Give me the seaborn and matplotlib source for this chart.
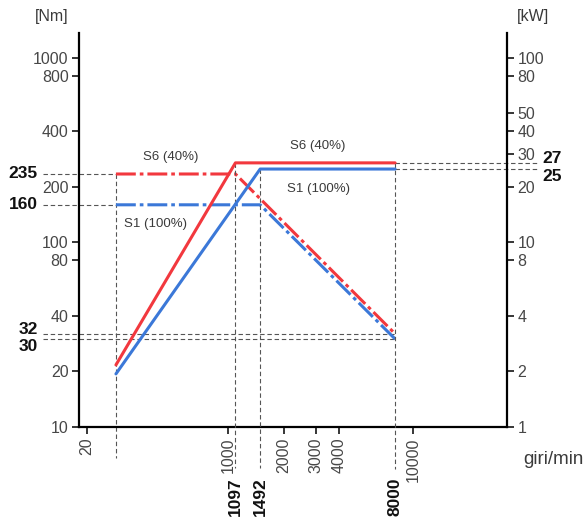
import numpy as np
import pandas as pd
import seaborn as sns
import matplotlib.pyplot as plt

# operating curves (speed in giri/min, torque in Nm, power in kW)
speed_s6 = [248, 1097, 8000]
torque_s6 = [235, 235, 32]
power_s6 = [2.17, 27, 27]

speed_s1 = [248, 1492, 8000]
torque_s1 = [160, 160, 30]
power_s1 = [1.94, 25, 25]

# axis ticks
x_ticks = [173, 1000, 2000, 3000, 4000, 10000]
x_tick_labels = ["20", "1000", "2000", "3000", "4000", "10000"]
y_ticks_nm = [10, 20, 40, 80, 100, 200, 400, 800, 1000]
y_ticks_kw = [1, 2, 4, 8, 10, 20, 30, 40, 50, 80, 100]

RED = "#f2383e"
BLUE = "#3b78d8"
GUIDE = "#555555"

sns.set_style("ticks")
plt.rcParams["font.family"] = ["Liberation Sans", "DejaVu Sans"]

fig = plt.figure(figsize=(5.85, 5.2), dpi=100)
ax = fig.add_axes([79 / 585, 1 - 427 / 520, 428 / 585, 394 / 520])
ax2 = ax.twinx()

xlim = (156.6, 32200)
ylim = (10, 1365)
for a in (ax, ax2):
    a.set_xscale("log")
    a.set_yscale("log")
    a.set_xlim(*xlim)
ax.set_ylim(*ylim)
ax2.set_ylim(ylim[0] / 10, ylim[1] / 10)

dashdot = (0, (6.5, 1.3, 1.2, 1.3))
lw = 2.2

# guide lines
gkw = dict(color=GUIDE, lw=0.8, linestyle=(0, (4, 2.5)), clip_on=False, zorder=1)
ax.plot([100, speed_s6[0]], [torque_s6[0]] * 2, **gkw)
ax.plot([100, speed_s1[0]], [torque_s1[0]] * 2, **gkw)
ax.plot([100, speed_s6[-1]], [torque_s6[-1]] * 2, **gkw)
ax.plot([100, speed_s1[-1]], [torque_s1[-1]] * 2, **gkw)
ax2.plot([speed_s6[-1], 47000], [power_s6[-1]] * 2, **gkw)
ax2.plot([speed_s1[-1], 47000], [power_s1[-1]] * 2, **gkw)
ax.plot([speed_s6[0]] * 2, [torque_s6[0], 6.8], **gkw)
ax2.plot([speed_s6[1]] * 2, [power_s6[1], 0.60], **gkw)
ax2.plot([speed_s1[1]] * 2, [power_s1[1], 0.60], **gkw)
ax2.plot([speed_s6[-1]] * 2, [power_s6[-1], 0.59], **gkw)

# torque curves (dash-dot) and power curves (solid)
sns.lineplot(x=speed_s1, y=torque_s1, ax=ax, color=BLUE, lw=lw,
             linestyle=dashdot, sort=False, estimator=None, zorder=3)
sns.lineplot(x=speed_s6, y=torque_s6, ax=ax, color=RED, lw=lw,
             linestyle=dashdot, sort=False, estimator=None, zorder=4)
sns.lineplot(x=speed_s1, y=power_s1, ax=ax2, color=BLUE, lw=lw,
             sort=False, estimator=None, zorder=3)
sns.lineplot(x=speed_s6, y=power_s6, ax=ax2, color=RED, lw=lw,
             sort=False, estimator=None, zorder=4)

# spines and ticks
for a in (ax, ax2):
    a.spines["top"].set_visible(False)
    for s in a.spines.values():
        s.set_linewidth(1.6)
        s.set_color("black")
    a.minorticks_off()
ax.spines["right"].set_visible(False)
ax2.spines["left"].set_visible(False)
ax2.spines["bottom"].set_visible(False)

ax.set_xticks(x_ticks)
ax.set_xticklabels(x_tick_labels, rotation=90)
ax.set_yticks(y_ticks_nm)
ax.set_yticklabels([str(v) for v in y_ticks_nm])
ax2.set_yticks(y_ticks_kw)
ax2.set_yticklabels([str(v) for v in y_ticks_kw])
ax.xaxis.set_minor_locator(plt.NullLocator())
ax.yaxis.set_minor_locator(plt.NullLocator())
ax2.yaxis.set_minor_locator(plt.NullLocator())
ax2.xaxis.set_minor_locator(plt.NullLocator())
tkw = dict(direction="out", length=5, width=1.3, labelsize=11.5, labelcolor="#474747", pad=2.5)
ax.tick_params(axis="both", **tkw)
ax2.tick_params(axis="y", **tkw)
ax.set_xlabel("")
ax.set_ylabel("")
ax2.set_ylabel("")

# bold values
bkw = dict(fontsize=12.5, fontweight="bold", color="#111111")
ytr = ax.get_yaxis_transform()
ax.text(-0.096, torque_s6[0], "235", transform=ytr, ha="right", va="center", **bkw)
ax.text(-0.096, torque_s1[0], "160", transform=ytr, ha="right", va="center", **bkw)
ax.text(-0.096, torque_s6[-1], "32", transform=ytr, ha="right", va="baseline", **bkw)
ax.text(-0.096, torque_s1[-1], "30", transform=ytr, ha="right", va="top", **bkw)
ytr2 = ax2.get_yaxis_transform()
ax2.text(1.082, power_s6[-1], "27", transform=ytr2, ha="left", va="baseline", **bkw)
ax2.text(1.082, power_s1[-1], "25", transform=ytr2, ha="left", va="top", **bkw)
xtr = ax.get_xaxis_transform()
for v in (speed_s6[1], speed_s1[1], speed_s6[-1]):
    ax.text(v, -0.128, str(v), transform=xtr, rotation=90, ha="center", va="top", **bkw)

# curve labels
lkw = dict(fontsize=9.5, color="#3a3a3a", ha="center", va="center")
ax.text(492, 290, "S6 (40%)", **lkw)
ax.text(408, 126, "S1 (100%)", **lkw)
ax.text(3064, 333, "S6 (40%)", **lkw)
ax.text(3100, 195, "S1 (100%)", **lkw)

# units
ukw = dict(fontsize=11.5, color="#3a3a3a", ha="center", va="center")
fig.text(52 / 585, 1 - 16 / 520, "[Nm]", **ukw)
fig.text(533 / 585, 1 - 17 / 520, "[kW]", **ukw)
fig.text(553 / 585, 1 - 460 / 520, "giri/min", fontsize=13.5, color="#3a3a3a", ha="center", va="center")

fig.savefig("out.png", dpi=100)
